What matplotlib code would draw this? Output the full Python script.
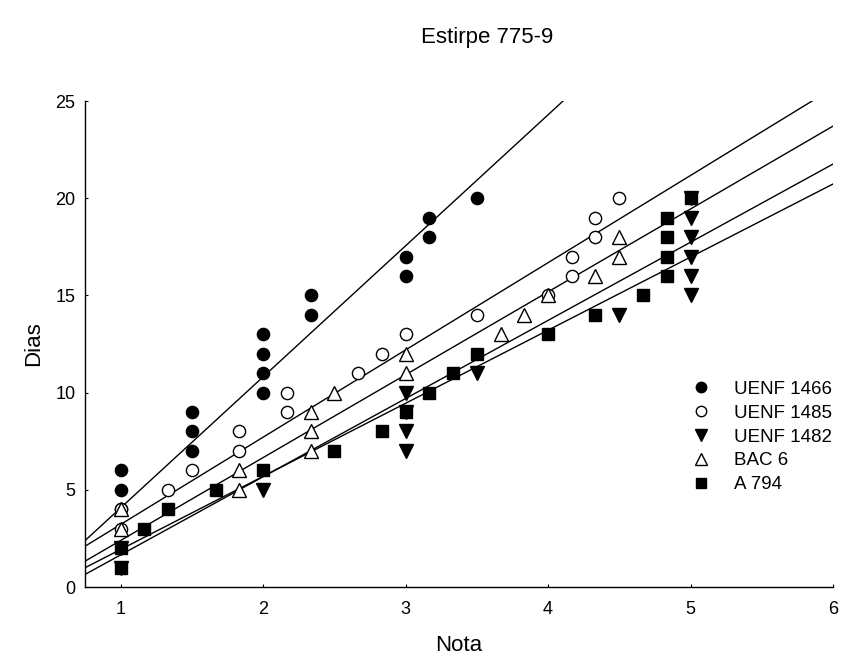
import numpy as np
import matplotlib
matplotlib.use("Agg")
import matplotlib.pyplot as plt

plt.rcParams["font.family"] = ["Liberation Sans", "DejaVu Sans"]

# series names in legend order
labels = ["UENF 1466", "UENF 1485", "UENF 1482", "BAC 6", "A 794"]

# points (Nota, Dias)
uenf1466_x = [1, 1, 1, 1.5, 1.5, 1.5, 2, 2, 2, 2, 2.333, 2.333, 3, 3, 3.167, 3.167, 3.5]
uenf1466_y = [6, 5, 4, 9, 8, 7, 13, 12, 11, 10, 15, 14, 17, 16, 19, 18, 20]

uenf1485_x = [1, 1, 1.333, 1.5, 1.833, 1.833, 2.167, 2.167, 2.667, 2.833, 3, 3.5,
              4, 4.167, 4.167, 4.333, 4.333, 4.5]
uenf1485_y = [4, 3, 5, 6, 8, 7, 10, 9, 11, 12, 13, 14, 15, 17, 16, 19, 18, 20]

uenf1482_x = [1, 1, 2, 3, 3, 3, 3, 3.5, 4.5, 5, 5, 5, 5, 5, 5]
uenf1482_y = [2, 1, 5, 10, 9, 8, 7, 11, 14, 20, 19, 18, 17, 16, 15]

bac6_x = [1, 1, 1.833, 1.833, 2.333, 2.333, 2.333, 2.5, 3, 3, 3.667, 3.833, 4,
          4.333, 4.5, 4.5]
bac6_y = [4, 3, 6, 5, 9, 8, 7, 10, 12, 11, 13, 14, 15, 16, 18, 17]

a794_x = [1, 1, 1.167, 1.333, 1.667, 2, 2.5, 2.833, 3, 3.167, 3.333, 3.5, 4,
          4.333, 4.667, 4.833, 4.833, 4.833, 4.833, 5]
a794_y = [2, 1, 3, 4, 5, 6, 7, 8, 9, 10, 11, 12, 13, 14, 15, 19, 18, 17, 16, 20]

# regression lines (Dias = a + b * Nota)
fit_intercept = [-2.67, -1.27, -2.37, -1.87, -1.83]
fit_slope = [6.74, 4.488, 4.021, 4.263, 3.76]

xs = [uenf1466_x, uenf1485_x, uenf1482_x, bac6_x, a794_x]
ys = [uenf1466_y, uenf1485_y, uenf1482_y, bac6_y, a794_y]
markers = ["o", "o", "v", "^", "s"]
faces = ["black", "white", "black", "white", "black"]
sizes = [8.8, 8.8, 9.4, 9.4, 8.0]

fig = plt.figure(figsize=(8.43, 6.58), dpi=100)
ax = fig.add_axes([85 / 843, 1 - 587 / 658, 748 / 843, 486 / 658])

xline = np.array([0.75, 6.0])
for a, b in zip(fit_intercept, fit_slope):
    ax.plot(xline, a + b * xline, color="black", lw=1.0, zorder=2)

for x, y, m, fc, ms, lab in zip(xs, ys, markers, faces, sizes, labels):
    ax.plot(x, y, linestyle="none", marker=m, ms=ms, mfc=fc, mec="black",
            mew=1.0, label=lab, zorder=3)

ax.set_xlim(0.75, 6)
ax.set_ylim(0, 25)
ax.set_xticks([1, 2, 3, 4, 5, 6])
ax.set_yticks([0, 5, 10, 15, 20, 25])
ax.tick_params(direction="in", length=2.5, labelsize=13)
ax.tick_params(axis="x", pad=10)
ax.tick_params(axis="y", pad=7)
for s in ["top", "right"]:
    ax.spines[s].set_visible(False)
for s in ["left", "bottom"]:
    ax.spines[s].set_linewidth(1.0)

ax.set_xlabel("Nota", fontsize=16, labelpad=12)
ax.set_ylabel("Dias", fontsize=16, labelpad=8)
fig.text(487 / 843, 1 - 37 / 658, "Estirpe 775-9", fontsize=16,
         ha="center", va="center")

ax.legend(loc="center left", bbox_to_anchor=(597 / 748, 1 - (437 - 101) / 486),
          frameon=False, fontsize=13.5, handlelength=1.0, handletextpad=1.3,
          labelspacing=0.36, borderpad=0, numpoints=1, markerscale=0.85)

fig.savefig("out.png", dpi=100)
